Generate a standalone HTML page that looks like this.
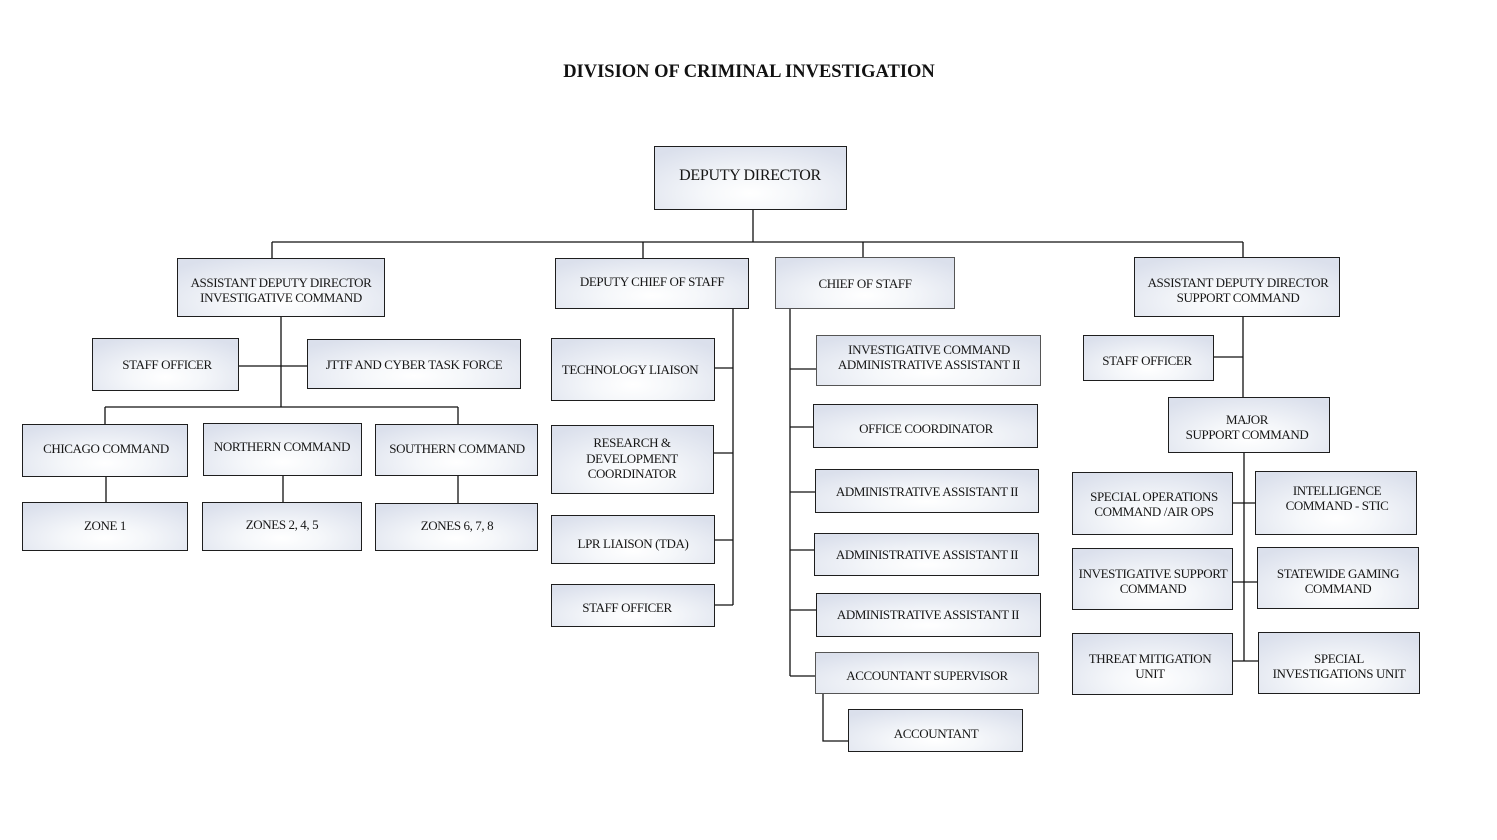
<!DOCTYPE html>
<html>
<head>
<meta charset="utf-8">
<style>
  html, body { margin:0; padding:0; background:#fff; }
  body { width:1497px; height:840px; position:relative; overflow:hidden; }
  svg.c { position:absolute; left:0; top:0; z-index:1; }
  .b { position:absolute; box-sizing:border-box; border:1px solid #1e1e1e; z-index:2;
       background: radial-gradient(ellipse 70% 85% at 50% 75%, #ffffff 0%, #f5f7fa 35%, #dbe0ec 100%); }
  .g { border-color:#555; }
  .t { position:absolute; width:300px; text-align:center; z-index:3; color:#161616;
       font-family:"Liberation Serif", serif; font-size:13px; line-height:15px;
       letter-spacing:-0.4px; white-space:nowrap; margin-top:1px; }
  .title { position:absolute; left:449px; width:600px; top:61px; text-align:center;
       font-family:"Liberation Serif", serif; font-weight:bold; font-size:18.5px; line-height:22px;
       color:#111; white-space:nowrap; }
</style>
</head>
<body>

<div class="title">DIVISION OF CRIMINAL INVESTIGATION</div>

<svg class="c" width="1497" height="840" viewBox="0 0 1497 840">
  <g fill="none" stroke="#111" stroke-width="1.3">
    <path d="M753 210 V242"/>
    <path d="M272 242 H1243"/>
    <path d="M272 242 V258"/>
    <path d="M643 242 V258"/>
    <path d="M863 242 V257"/>
    <path d="M1243 242 V257"/>
    <path d="M281 317 V407"/>
    <path d="M239 366 H307"/>
    <path d="M105 407 H458"/>
    <path d="M105 407 V424"/>
    <path d="M458 407 V424"/>
    <path d="M106 477 V502"/>
    <path d="M283 476 V502"/>
    <path d="M458 476 V503"/>
    <path d="M733 309 V605"/>
    <path d="M715 368 H733"/>
    <path d="M714 453 H733"/>
    <path d="M715 540 H733"/>
    <path d="M715 605 H733"/>
    <path d="M790 309 V676"/>
    <path d="M790 369 H816"/>
    <path d="M790 427 H813"/>
    <path d="M790 492 H815"/>
    <path d="M790 550 H814"/>
    <path d="M790 610 H816"/>
    <path d="M790 676 H815"/>
    <path d="M823 694 V741 H848"/>
    <path d="M1243 317 V397"/>
    <path d="M1214 357 H1243"/>
    <path d="M1244 453 V661"/>
    <path d="M1233 503 H1255"/>
    <path d="M1233 582 H1257"/>
    <path d="M1233 661 H1258"/>
  </g>
</svg>

<div class="b" style="left:654px;top:146px;width:193px;height:64px;"></div>
<div class="b" style="left:177px;top:258px;width:208px;height:59px;"></div>
<div class="b" style="left:555px;top:258px;width:194px;height:51px;"></div>
<div class="b g" style="left:775px;top:257px;width:180px;height:52px;"></div>
<div class="b" style="left:1134px;top:257px;width:206px;height:60px;"></div>

<div class="b" style="left:92px;top:338px;width:147px;height:53px;"></div>
<div class="b" style="left:307px;top:339px;width:214px;height:50px;"></div>
<div class="b" style="left:22px;top:424px;width:166px;height:53px;"></div>
<div class="b" style="left:203px;top:423px;width:159px;height:53px;"></div>
<div class="b" style="left:375px;top:424px;width:163px;height:52px;"></div>
<div class="b" style="left:22px;top:502px;width:166px;height:49px;"></div>
<div class="b" style="left:202px;top:502px;width:160px;height:49px;"></div>
<div class="b" style="left:375px;top:503px;width:163px;height:48px;"></div>

<div class="b" style="left:551px;top:338px;width:164px;height:63px;"></div>
<div class="b" style="left:551px;top:425px;width:163px;height:69px;"></div>
<div class="b" style="left:551px;top:515px;width:164px;height:49px;"></div>
<div class="b" style="left:551px;top:584px;width:164px;height:43px;"></div>

<div class="b g" style="left:816px;top:335px;width:225px;height:51px;"></div>
<div class="b" style="left:813px;top:404px;width:225px;height:44px;"></div>
<div class="b" style="left:815px;top:469px;width:224px;height:44px;"></div>
<div class="b" style="left:814px;top:533px;width:225px;height:43px;"></div>
<div class="b" style="left:816px;top:593px;width:225px;height:44px;"></div>
<div class="b g" style="left:815px;top:652px;width:224px;height:42px;"></div>
<div class="b" style="left:848px;top:709px;width:175px;height:43px;"></div>

<div class="b" style="left:1083px;top:335px;width:131px;height:46px;"></div>
<div class="b" style="left:1168px;top:397px;width:162px;height:56px;"></div>
<div class="b" style="left:1072px;top:472px;width:161px;height:63px;"></div>
<div class="b" style="left:1255px;top:471px;width:162px;height:64px;"></div>
<div class="b" style="left:1072px;top:548px;width:161px;height:62px;"></div>
<div class="b" style="left:1257px;top:547px;width:162px;height:62px;"></div>
<div class="b" style="left:1072px;top:633px;width:161px;height:62px;"></div>
<div class="b" style="left:1258px;top:632px;width:162px;height:62px;"></div>

<div class="t" style="left:600px;top:166px;font-size:16px;line-height:18px;letter-spacing:-0.3px;">DEPUTY DIRECTOR</div>

<div class="t" style="left:131px;top:274px;">ASSISTANT DEPUTY DIRECTOR<br>INVESTIGATIVE COMMAND</div>
<div class="t" style="left:502px;top:273px;">DEPUTY CHIEF OF STAFF</div>
<div class="t" style="left:715px;top:275px;">CHIEF OF STAFF</div>
<div class="t" style="left:1088px;top:274px;">ASSISTANT DEPUTY DIRECTOR<br>SUPPORT COMMAND</div>

<div class="t" style="left:17px;top:356px;">STAFF OFFICER</div>
<div class="t" style="left:264px;top:356px;">JTTF AND CYBER TASK FORCE</div>
<div class="t" style="left:-44px;top:440px;">CHICAGO COMMAND</div>
<div class="t" style="left:132px;top:438px;">NORTHERN COMMAND</div>
<div class="t" style="left:307px;top:440px;">SOUTHERN COMMAND</div>
<div class="t" style="left:-45px;top:517px;">ZONE 1</div>
<div class="t" style="left:132px;top:516px;">ZONES 2, 4, 5</div>
<div class="t" style="left:307px;top:517px;">ZONES 6, 7, 8</div>

<div class="t" style="left:480px;top:361px;">TECHNOLOGY LIAISON</div>
<div class="t" style="left:482px;top:434px;line-height:15.5px;">RESEARCH &amp;<br>DEVELOPMENT<br>COORDINATOR</div>
<div class="t" style="left:483px;top:535px;">LPR LIAISON (TDA)</div>
<div class="t" style="left:477px;top:599px;">STAFF OFFICER</div>

<div class="t" style="left:779px;top:341px;">INVESTIGATIVE COMMAND<br>ADMINISTRATIVE ASSISTANT II</div>
<div class="t" style="left:776px;top:420px;">OFFICE COORDINATOR</div>
<div class="t" style="left:777px;top:483px;">ADMINISTRATIVE ASSISTANT II</div>
<div class="t" style="left:777px;top:546px;">ADMINISTRATIVE ASSISTANT II</div>
<div class="t" style="left:778px;top:606px;">ADMINISTRATIVE ASSISTANT II</div>
<div class="t" style="left:777px;top:667px;">ACCOUNTANT SUPERVISOR</div>
<div class="t" style="left:786px;top:725px;">ACCOUNTANT</div>

<div class="t" style="left:997px;top:352px;">STAFF OFFICER</div>
<div class="t" style="left:1097px;top:411px;">MAJOR<br>SUPPORT COMMAND</div>
<div class="t" style="left:1004px;top:488px;">SPECIAL OPERATIONS<br>COMMAND /AIR OPS</div>
<div class="t" style="left:1187px;top:482px;">INTELLIGENCE<br>COMMAND - STIC</div>
<div class="t" style="left:1003px;top:565px;">INVESTIGATIVE SUPPORT<br>COMMAND</div>
<div class="t" style="left:1188px;top:565px;">STATEWIDE GAMING<br>COMMAND</div>
<div class="t" style="left:1000px;top:650px;">THREAT MITIGATION<br>UNIT</div>
<div class="t" style="left:1189px;top:650px;">SPECIAL<br>INVESTIGATIONS UNIT</div>

</body>
</html>
